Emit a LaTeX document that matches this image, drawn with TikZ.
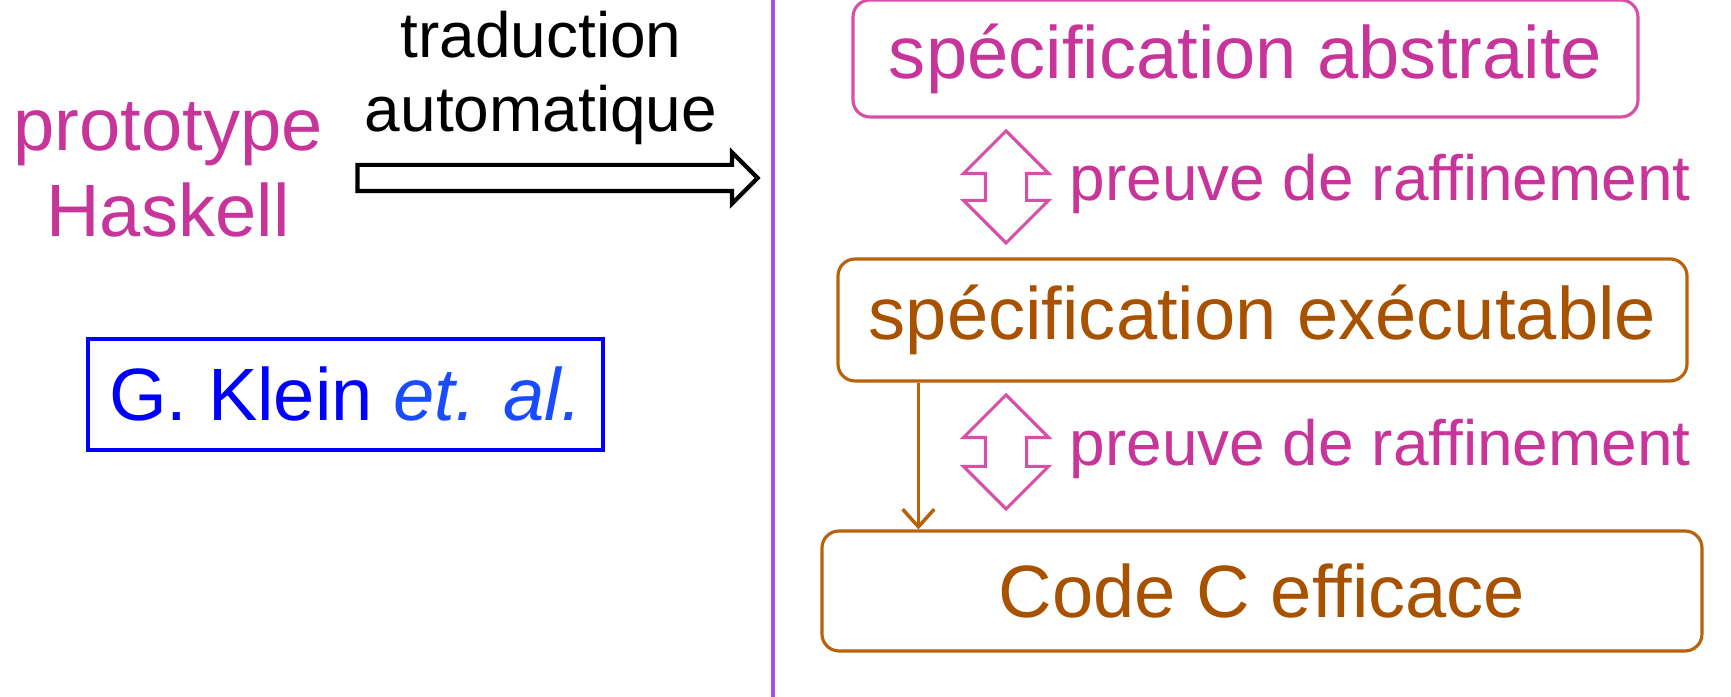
\documentclass[tikz,border=0pt]{standalone}
\usepackage{fontspec}
\setmainfont{Liberation Sans}
\usetikzlibrary{arrows.meta,shapes.arrows,positioning}

\definecolor{spectext}{HTML}{C8359A}
\definecolor{specline}{HTML}{D650A8}
\definecolor{impltext}{HTML}{A85200}
\definecolor{implline}{HTML}{B8620C}
\definecolor{sepline}{HTML}{A552E8}
\definecolor{kleinblue}{HTML}{0000FF}
\definecolor{kleinital}{HTML}{1A4CFF}

\begin{document}
\begin{tikzpicture}[
    big/.style={font=\fontsize{21.1}{24.4}\selectfont,inner sep=0pt},
    small/.style={font=\fontsize{18.2}{21}\selectfont,inner sep=0pt},
    level/.style={big,draw,line width=0.9pt,rounded corners=0.17cm},
    spec/.style={level,draw=specline,text=spectext},
    impl/.style={level,draw=implline,text=impltext},
    refine/.style={shape=double arrow,draw=specline,line width=0.9pt,
        shape border rotate=90,inner sep=0.19cm,minimum width=0.83cm,
        double arrow head extend=0.22cm}
]
    \useasboundingbox (0,0) rectangle (17.31,-6.97);

    % left part
    \node[big,text=spectext,align=center] (proto) at (1.68,-1.70)
        {prototype\\Haskell};
    \node[small,align=center] (trad) at (5.41,-0.78)
        {traduction\\automatique};
    \node[shape=single arrow,draw=black,line width=1.2pt,inner sep=0.11cm,
        minimum width=0.5cm,minimum height=4.0cm,
        single arrow head extend=0.125cm] (transl) at (5.51,-1.78) {};
    \node[big,draw=kleinblue,line width=0.9pt,text=kleinblue,
        minimum width=5.15cm,minimum height=1.11cm] (klein) at (3.455,-3.945)
        {G. Klein \textcolor{kleinital}{\itshape et. al.}};

    % separator
    \coordinate (sep-top) at (7.73,0);
    \coordinate (sep-bottom) at (7.73,-6.97);
    \draw[sepline,line width=0.9pt] (sep-top) -- (sep-bottom);

    % right part
    \node[spec,minimum width=7.85cm,minimum height=1.17cm] (abstract)
        at (12.455,-0.585) {spécification abstraite};
    \node[impl,minimum width=8.49cm,minimum height=1.22cm] (exec)
        at (12.625,-3.20) {spécification exécutable};
    \node[impl,minimum width=8.80cm,minimum height=1.20cm] (code)
        at (12.62,-5.91) {Code C efficace};

    \node[refine,minimum height=1.12cm] (ref1) at (10.06,-1.87) {};
    \node[refine,minimum height=1.14cm] (ref2) at (10.06,-4.52) {};
    \node[small,text=spectext,anchor=west] at (10.69,-1.84)
        {preuve de raffinement};
    \node[small,text=spectext,anchor=west] at (10.69,-4.49)
        {preuve de raffinement};

    \draw[implline,line width=1pt,-{Straight Barb[length=5pt,width=9pt]}]
        ([xshift=0.82cm]exec.south west)
        -- ([xshift=0.82cm]exec.south west |- code.north);

\end{tikzpicture}
\end{document}
